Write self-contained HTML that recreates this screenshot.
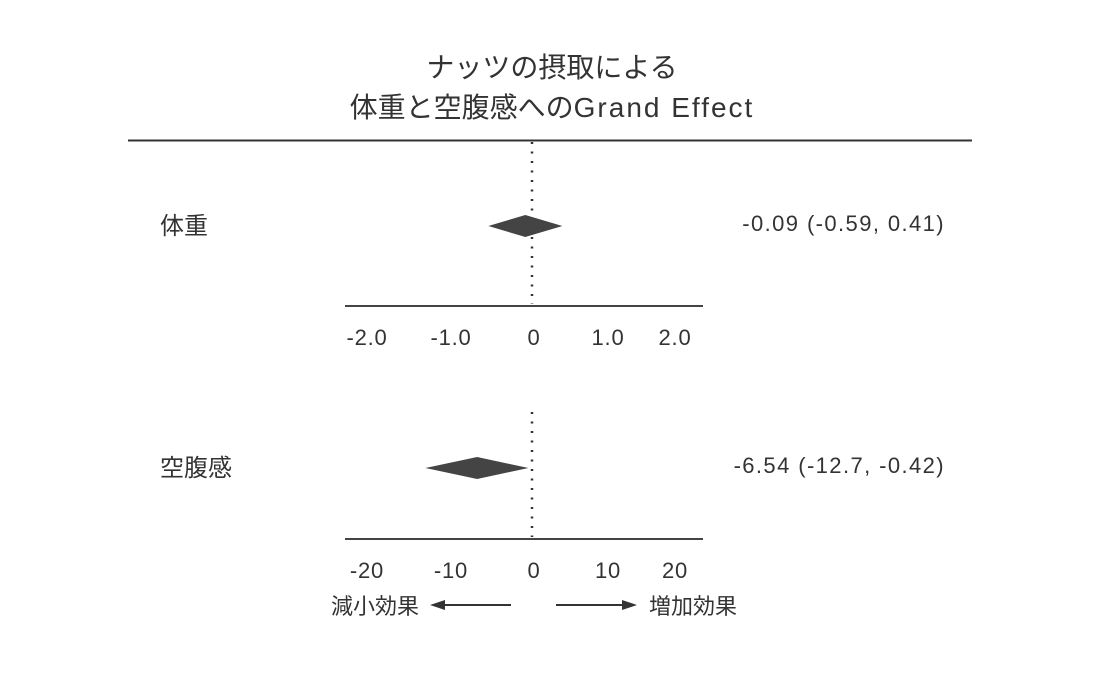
<!DOCTYPE html>
<html><head><meta charset="utf-8"><style>
body{margin:0;background:#fff;}
svg text{font-family:"Liberation Sans","Noto Sans CJK JP",sans-serif;fill:#333;}
</style></head><body>
<svg width="1112" height="670">
<text x="552" y="77" font-size="28" text-anchor="middle">ナッツの摂取による</text>
<text x="552" y="117" font-size="28" text-anchor="middle">体重と空腹感への<tspan letter-spacing="2">Grand Effect</tspan></text>
<line x1="128" y1="140.5" x2="972" y2="140.5" stroke="#333" stroke-width="2"/>
<g id="plots"></g>
<g>
<text x="375" y="614" font-size="22" text-anchor="middle">減小効果</text>
<line x1="442" y1="605" x2="511" y2="605" stroke="#333" stroke-width="2"/>
<polygon points="430,605 445,600 445,610" fill="#333"/>
<line x1="556" y1="605" x2="626" y2="605" stroke="#333" stroke-width="2"/>
<polygon points="637,605 622,600 622,610" fill="#333"/>
<text x="693" y="614" font-size="22" text-anchor="middle">増加効果</text>
</g>
</svg>
<script>
const outcomes=["体重","空腹感"];
const estimates=[-0.09,-6.54];
const lowers=[-0.59,-12.7];
const uppers=[0.41,-0.42];
const valueLabels=["-0.09 (-0.59, 0.41)","-6.54 (-12.7, -0.42)"];
const tickValuesTop=[-2,-1,0,1,2];
const tickLabelsTop=["-2.0","-1.0","0","1.0","2.0"];
const tickValuesBottom=[-20,-10,0,10,20];
const tickLabelsBottom=["-20","-10","0","10","20"];
</script>
<script>
const NS="http://www.w3.org/2000/svg";
const g=document.getElementById('plots');
function mk(t,a){const e=document.createElementNS(NS,t);for(const k in a)e.setAttribute(k,a[k]);g.appendChild(e);return e;}
const panels=[
 {cy:226,axisY:306,dotTop:142,labelY:345,scale:74,tickV:tickValuesTop,tickL:tickLabelsTop,tickX:[367,451,534,608,675]},
 {cy:468,axisY:539,dotTop:412,labelY:578,scale:8.39,tickV:tickValuesBottom,tickL:tickLabelsBottom,tickX:[367,451,534,608,675]}
];
const zero=532;
panels.forEach((p,i)=>{
 const x=v=>zero+v*p.scale;
 const dl=mk('line',{x1:zero,y1:p.dotTop,x2:zero,y2:p.axisY-2,stroke:'#333','stroke-width':2.5,'stroke-dasharray':'2,7.5'});
 
 
 const ax=mk('line',{x1:345,y1:p.axisY,x2:703,y2:p.axisY,stroke:'#444','stroke-width':2});
 
 
 p.tickL.forEach((t,j)=>{
  const tx=mk('text',{x:p.tickX[j],y:p.labelY,'font-size':22,'text-anchor':'middle','letter-spacing':0.8});
  tx.textContent=t;
  
  
 });
 const d=mk('polygon',{points:`${x(lowers[i])},${p.cy} ${x(estimates[i])},${p.cy-11} ${x(uppers[i])},${p.cy} ${x(estimates[i])},${p.cy+11}`,fill:'#444'});
 
 
 const lb=mk('text',{x:160,y:p.cy+8,'font-size':24});
 lb.textContent=outcomes[i];
 
 
 const vl=mk('text',{x:945,y:p.cy+5,'font-size':22,'text-anchor':'end','letter-spacing':1.4});
 vl.textContent=valueLabels[i];
 
 
});
</script>
</body></html>
